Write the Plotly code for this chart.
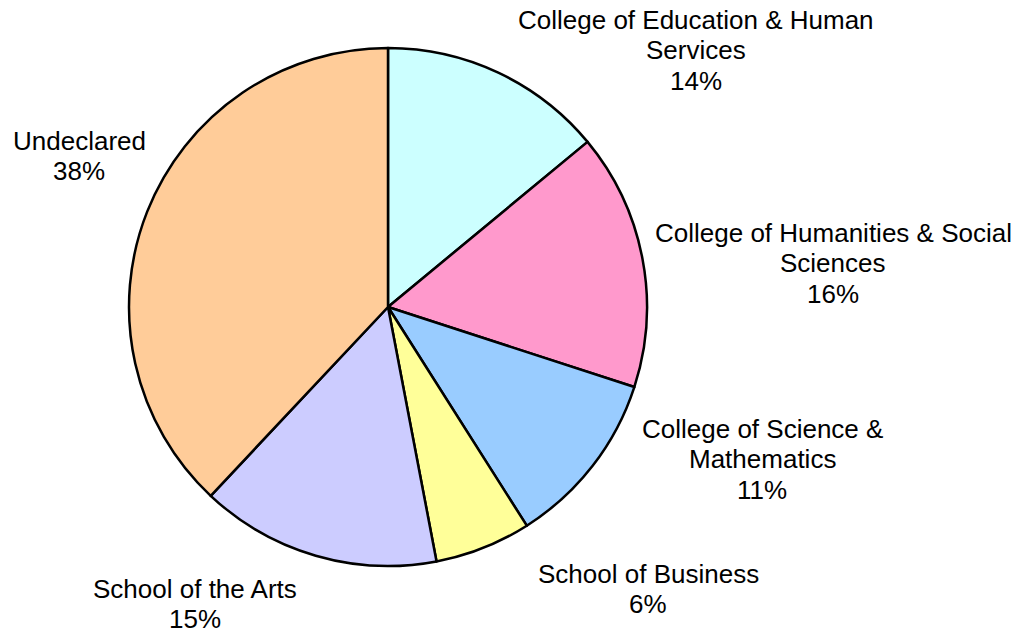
import plotly.graph_objects as go

labels = ["College of Education & Human Services",
          "College of Humanities & Social Sciences",
          "College of Science & Mathematics",
          "School of Business",
          "School of the Arts",
          "Undeclared"]
label_lines = [["College of Education & Human", "Services"],
               ["College of Humanities & Social", "Sciences"],
               ["College of Science &", "Mathematics"],
               ["School of Business"],
               ["School of the Arts"],
               ["Undeclared"]]
values = [14, 16, 11, 6, 15, 38]
colors = ["#CCFFFF", "#FF99CC", "#99CCFF", "#FFFF99", "#CCCCFF", "#FFCC99"]

# page offset (html body margin)
OFF = 8
W, H = 1025 - OFF, 637 - OFF
# first-line centre of each label block, page pixels (layout)
label_pos = [(696, 20), (833, 233), (762, 429), (648, 574), (195, 589), (79, 141)]
LINE = 30.3

cx, cy, r = 388 - OFF, 307 - OFF, 259

fig = go.Figure(go.Pie(
    labels=labels, values=values, sort=False, direction="clockwise", rotation=0,
    marker=dict(colors=colors, line=dict(color="black", width=2.5)),
    textinfo="none", hoverinfo="label+percent",
    domain=dict(x=[(cx - r) / W, (cx + r) / W], y=[(H - cy - r) / H, (H - cy + r) / H]),
))

total = sum(values)
for lines, v, (px, py) in zip(label_lines, values, label_pos):
    all_lines = lines + [f"{round(100 * v / total)}%"]
    for i, t in enumerate(all_lines):
        fig.add_annotation(
            text=t,
            x=(px - OFF) / W, y=1 - (py - OFF + i * LINE) / H, xref="paper", yref="paper",
            xanchor="center", yanchor="middle", showarrow=False,
            font=dict(family="Liberation Sans, Arial, sans-serif", size=26, color="black"),
        )

fig.update_layout(
    width=W, height=H, margin=dict(l=0, r=0, t=0, b=0),
    showlegend=False, paper_bgcolor="white", plot_bgcolor="white",
)
fig.write_html("out.html")
